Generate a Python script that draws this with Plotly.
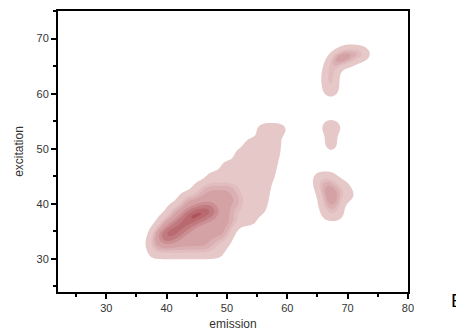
import numpy as np
import plotly.graph_objects as go

# ---------------- data: (emission, excitation) sample points ----------------
# broad main body, listed row by row (excitation of the row, emissions on it)
body_excitation = [31.0, 33.0, 35.0, 37.0, 39.0, 41.0, 43.0, 45.0, 47.0, 49.0, 51.0, 53.5]
body_emission = [
    [38.0, 40.1, 42.2, 44.3, 46.4, 48.5],
    [37.6, 39.6, 41.6, 43.6, 45.6, 47.6, 49.5],
    [38.4, 40.4, 42.4, 44.4, 46.4, 48.3, 50.2],
    [39.6, 41.7, 43.8, 45.9, 48.0, 50.0, 52.0, 54.0],
    [41.2, 43.3, 45.4, 47.5, 49.5, 51.5, 53.5, 55.6],
    [43.2, 45.3, 47.4, 49.5, 51.7, 53.9, 56.0],
    [45.4, 47.6, 49.8, 52.0, 54.2, 56.3],
    [47.6, 49.9, 52.3, 54.6, 57.0],
    [50.0, 52.5, 55.0, 57.4],
    [52.2, 54.0, 55.9, 57.8],
    [53.9, 56.0, 58.1],
    [55.8, 57.4, 59.0],
]
# denser centre of the main body
core_excitation = [32.5, 34.5, 36.5, 38.5, 40.5, 42.5]
core_emission = [
    [38.6, 40.6, 42.6, 44.6, 46.6],
    [38.8, 40.9, 43.0, 45.1, 47.2, 49.2],
    [40.2, 42.2, 44.2, 46.2, 48.2, 50.3],
    [41.7, 43.8, 45.9, 48.0, 50.0],
    [43.5, 45.5, 47.5, 49.5, 51.4],
    [46.6, 48.6, 50.6],
]
# ridge of the densest part
ridge_emission = [40.0, 41.4, 42.8, 44.2, 45.6, 47.0]
ridge_excitation = [34.2, 35.1, 36.3, 37.6, 38.3, 38.7]
ridge_count = [2.3, 2.3, 2.3, 3.0, 2.3, 2.3]

# lower right cluster
lr_emission = [66.7, 68.3, 66.4, 68.2, 66.3, 68.2, 70.2, 65.6, 67.5, 69.3, 65.3, 67.2, 66.6, 67.3, 67.4]
lr_excitation = [38.0, 38.0, 39.8, 39.8, 41.5, 41.5, 41.5, 43.2, 43.2, 43.2, 44.8, 44.8, 43.0, 41.6, 40.0]
lr_count = [1.0, 1.0, 1.0, 1.0, 1.0, 1.0, 1.0, 1.0, 1.0, 1.0, 1.0, 1.0, 0.8, 1.2, 0.8]

# small middle cluster
mid_emission = [66.8, 67.8, 67.2, 67.2, 67.3, 67.3]
mid_excitation = [54.0, 53.9, 52.2, 51.4, 50.6, 50.0]
mid_count = [1.0, 1.0, 0.45, 0.45, 0.45, 0.4]

# upper right hooked cluster
top_emission = [67.2, 67.2, 67.1, 67.2, 67.6, 68.7, 70.0, 71.3, 72.6, 70.3, 69.8, 68.6]
top_excitation = [60.2, 61.2, 62.6, 64.0, 65.5, 66.5, 66.9, 67.3, 67.2, 65.7, 68.0, 66.4]
top_count = [0.8, 1.0, 1.3, 1.3, 1.3, 1.3, 1.3, 1.3, 1.3, 0.6, 0.5, 1.0]

bandwidth = 1.1
levels = [0.95, 2.3, 2.85, 3.4, 4.6, 5.6, 6.9, 8.0]
colors = ['#e6c8c9', '#e1bdbf', '#dbb0b2', '#d4a1a4', '#cb8e92', '#c17b80', '#b96a70', '#b0525a']

# ---------------- assemble points ----------------
em, ex, wt = [], [], []
for yv, xs in zip(body_excitation, body_emission):
    for xv in xs:
        em.append(xv); ex.append(yv); wt.append(1.0)
for yv, xs in zip(core_excitation, core_emission):
    for xv in xs:
        em.append(xv); ex.append(yv); wt.append(1.0)
for a, b, c in [(ridge_emission, ridge_excitation, ridge_count),
                (lr_emission, lr_excitation, lr_count),
                (mid_emission, mid_excitation, mid_count),
                (top_emission, top_excitation, top_count)]:
    em += a; ex += b; wt += c

em = np.array(em); ex = np.array(ex); wt = np.array(wt)

gx = np.arange(33.0, 76.01, 0.25)
gy = np.arange(27.0, 71.51, 0.25)
X, Y = np.meshgrid(gx, gy)
dens = np.zeros_like(X)
for px, py, w in zip(em, ex, wt):
    dens += w * np.exp(-((X - px) ** 2 + (Y - py) ** 2) / (2 * bandwidth ** 2))
zr = np.round(dens, 3)

fig = go.Figure()
for lev, col in zip(levels, colors):
    # constraint contours shade the region that violates the constraint,
    # so "< lev" shades the area where density >= lev
    fig.add_trace(go.Contour(
        x=gx, y=gy, z=zr,
        contours=dict(type='constraint', operation='<', value=lev),
        fillcolor=col, line=dict(width=0, smoothing=1),
        showscale=False, hoverinfo='skip', showlegend=False))

axis_common = dict(showline=True, linewidth=2, linecolor='black', mirror=True,
                   ticks='outside', ticklen=5, tickwidth=2, tickcolor='black',
                   showgrid=False, zeroline=False, automargin=False,
                   tickfont=dict(family='Liberation Sans, Arial, sans-serif', size=11, color='#333'))

fig.update_xaxes(range=[22, 80.01], dtick=10, tick0=0,
                 minor=dict(dtick=5, tick0=0, ticks='outside', ticklen=3, tickwidth=2, tickcolor='black'),
                 title=dict(text='emission', font=dict(size=12, color='#333'), standoff=6),
                 **axis_common)
fig.update_yaxes(range=[24, 75], dtick=10, tick0=0,
                 minor=dict(dtick=5, tick0=0, ticks='outside', ticklen=3, tickwidth=2, tickcolor='black'),
                 title=dict(text='excitation', font=dict(size=12, color='#333'), standoff=10),
                 **axis_common)

# the page body adds an 8px offset, so margins are set to place the plot box at
# x 58..408, y 11..292 in the window
fig.update_layout(
    width=464, height=331,
    margin=dict(l=50, r=64, t=3, b=47),
    plot_bgcolor='white', paper_bgcolor='white',
    font=dict(family='Liberation Sans, Arial, sans-serif', size=11, color='#333'),
    showlegend=False,
    annotations=[
        dict(text='Б', xref='paper', yref='paper', x=1.1257, y=0, xanchor='left', yanchor='top',
             xshift=-3, yshift=4, showarrow=False, font=dict(size=19, color='black')),
    ],
)

fig.write_html("out.html")
